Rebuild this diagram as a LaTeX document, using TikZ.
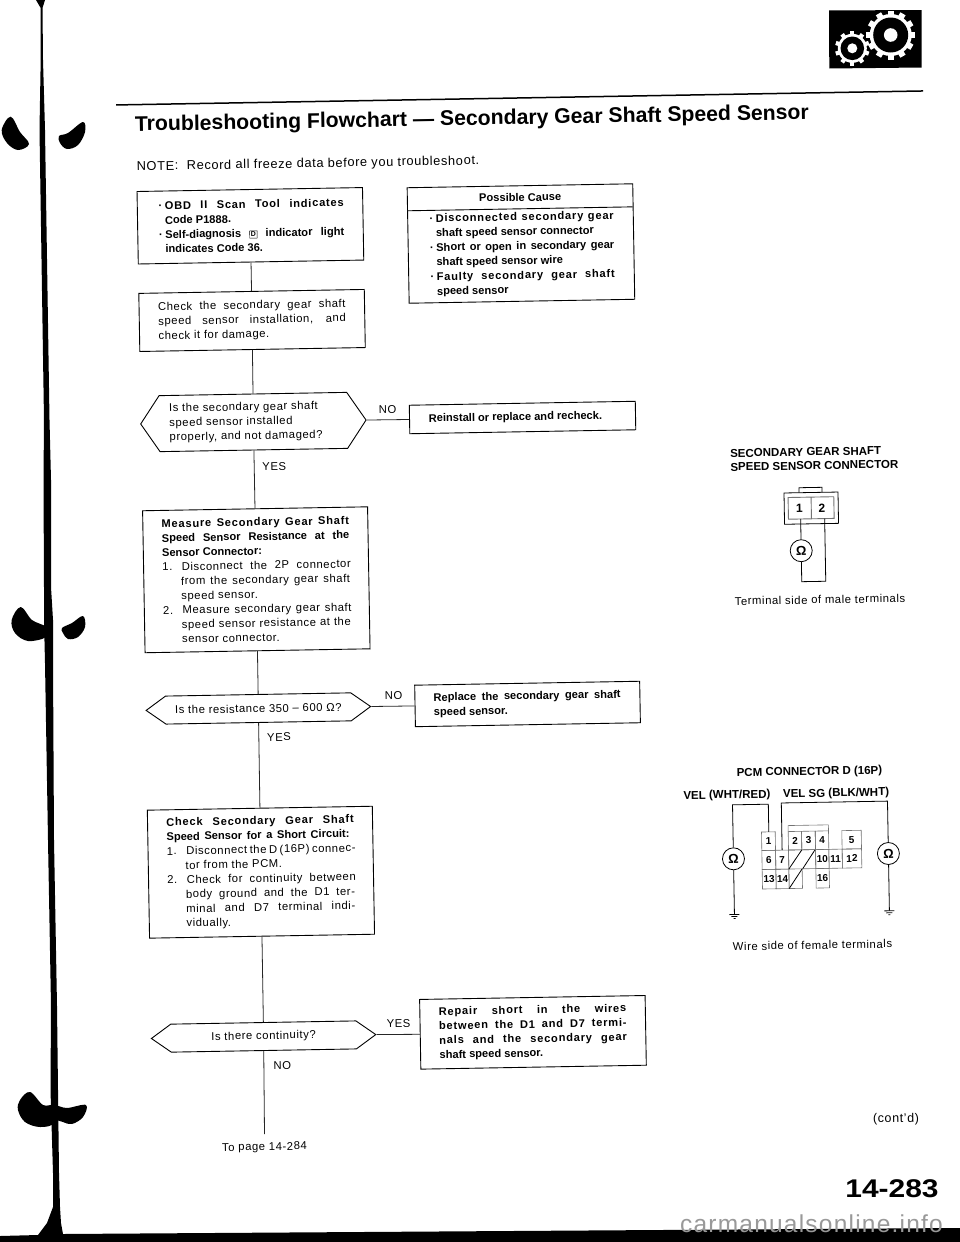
\documentclass[tikz,border=0pt]{standalone}
\usepackage{fontspec}
\setmainfont[UprightFeatures={LetterSpace=5}]{Liberation Sans}
\usetikzlibrary{shapes.symbols}
\newcommand{\jl}[1]{\makebox[187.5pt][s]{#1}}
\newcommand{\jb}[1]{\makebox[179pt][s]{#1}}
\newcommand{\ls}[1]{{\addfontfeatures{LetterSpace=7}#1}}
\newcommand{\bul}{\leavevmode\llap{·\hspace{2.5pt}}}
\newcommand{\bs}{\bfseries\fontsize{11.1}{14.45}\selectfont}
\newcommand{\rs}{\mdseries\fontsize{11.3}{14.45}\selectfont}
\newcommand{\txt}[1]{\parbox{187.5pt}{\fontsize{11.3}{14.45}\selectfont\setlength{\parindent}{0pt}#1}}
\tikzset{
  boxn/.style={draw=black,line width=0.9pt,inner sep=0pt,fill=white},
  hexn/.style={draw=black,line width=0.9pt,inner sep=0pt,signal,signal to=west and east,font=\fontsize{11.3}{14.45}\selectfont},
  link/.style={draw=black!85,line width=0.8pt},
  lab/.style={inner sep=0pt,font=\fontsize{11.3}{12}\selectfont},
  wire/.style={draw=black,line width=0.8pt},
  cellbox/.style={draw=black!55,line width=0.6pt},
  ohm/.style={circle,draw,line width=.8pt,minimum size=22pt,inner sep=0pt,font=\bfseries\fontsize{13}{14}\selectfont},
  blob/.style={fill=black,draw=none}
}
\begin{document}
\begin{tikzpicture}[x=1pt,y=-1pt]
\useasboundingbox (0,0) rectangle (960,1242);
\fill[white] (0,0) rectangle (960,1242);
% scan edge
\fill[blob] (36,0) -- (45,0) -- (42.5,8) -- (43,60) -- (45,130) -- (49.5,420) -- (51,480) -- (51,587) -- (53,620) -- (53,663) -- (54,840) -- (57,1006) -- (58,1090) -- (59,1173) -- (60,1207) -- (61,1223) -- (63,1234) -- (960,1228) -- (960,1242) -- (0,1242) -- (0,1236) -- (38,1235) -- (47,1223) -- (53,1207) -- (53,1173) -- (50.5,1090) -- (51,1006) -- (48,840) -- (45,663) -- (44,620) -- (44,587) -- (43.5,480) -- (44,420) -- (39.5,130) -- (40.7,60) -- (40.7,8) -- cycle;
\fill[blob] plot[smooth cycle,tension=.6] coordinates {(10.7,116.7)(1.7,130)(7,143)(18,150)(29,144)(20,132)};
\fill[blob] plot[smooth cycle,tension=.6] coordinates {(59,136)(68,133)(83,122)(85,132)(78,145)(67,149)(60,143)};
\fill[blob] plot[smooth cycle,tension=.6] coordinates {(20.7,607)(11.7,620)(15,633)(28,641)(46,637)(46,627)(32,620)};
\fill[blob] plot[smooth cycle,tension=.6] coordinates {(62,628)(72,623)(83,616)(85,627)(78,637)(68,639)(63,633)};
\fill[blob] plot[smooth cycle,tension=.6] coordinates {(30,1092)(20,1100)(18,1110)(25,1122)(40,1127)(54,1123)(54,1106)(43,1105)};
\fill[blob] plot[smooth cycle,tension=.6] coordinates {(55,1106)(67,1108)(86,1105)(83,1117)(72,1124)(63,1122)(55,1118)};
% gear icon
\fill[black] (829,10.5) -- (921.5,10) -- (921.7,67.5) -- (829.3,68.5) -- cycle;
\foreach \a in {0,30,...,330} {\fill[white,rotate around={\a:(890.7,35)}] (887.7,10.5) rectangle (893.7,16);}
\fill[white] (890.7,35) circle (21);
\fill[black] (890.7,35) circle (17.5);
\fill[white] (890.7,35) circle (6.8);
\foreach \a in {0,36,...,324} {\fill[white,rotate around={\a:(852.3,48.3)}] (850.2,31) rectangle (854.4,36);}
\fill[white] (852.3,48.3) circle (14.5);
\fill[black] (852.3,48.3) circle (11.8);
\fill[white] (852.3,48.3) circle (5);
% main rotated sheet
\begin{scope}[rotate around={1:(137,190)},transform shape]
\draw[line width=1.5pt] (117.5,104.6) -- (924.7,104.7);
\node[inner sep=0pt,anchor=west,font=\bfseries\fontsize{21.2}{24}\selectfont] (title) at (136,125.7) {Troubleshooting Flowchart — Secondary Gear Shaft Speed Sensor};
\node[inner sep=0pt,anchor=west,font=\fontsize{12.8}{14}\selectfont] (note) at (137,167.3) {NOTE:\ \ Record all freeze data before you troubleshoot.};
\node[boxn,minimum width=225.5pt,minimum height=72.5pt] (b1) at (249.75,227.75) {\txt{\hspace*{8.5pt}\parbox{179pt}{\bs
\bul\jb{\ls{OBD II Scan Tool indicates}}\\
Code P1888.\\
\bul\jb{Self-diagnosis {\fboxsep=1pt\fboxrule=.4pt\fbox{\fontsize{7}{7}\selectfont D}} indicator light}\\
indicates Code 36.}}};
\node[boxn,minimum width=225.5pt,minimum height=58.1pt] (b2) at (249.75,322.45) {\txt{\jl{Check the secondary gear shaft}\\
\jl{speed sensor installation, and}\\
check it for damage.}};
\node[boxn,minimum width=225.6pt,minimum height=115.5pt,anchor=north west] (pc) at (406.7,192) {};
\draw[boxn] (406.7,215.5) -- (632.3,215.5);
\node[lab,font=\bs] (pct) at (520,204) {Possible Cause};
\node[inner sep=0pt,anchor=north west] (pcx) at (435,219) {\parbox{178pt}{\fontsize{11.1}{14.6}\selectfont\bfseries
\bul\makebox[178pt][s]{\ls{Disconnected secondary gear}}\\
shaft speed sensor connector\\
\bul\makebox[178pt][s]{Short or open in secondary gear}\\
shaft speed sensor wire\\
\bul\makebox[178pt][s]{\ls{Faulty secondary gear shaft}}\\
speed sensor}};
\node[hexn,minimum width=225.4pt,minimum height=56pt,signal pointer angle=112] (h1) at (249.3,424) {\parbox{168pt}{Is the secondary gear shaft\\speed sensor installed\\properly, and not damaged?}};
\node[boxn,minimum width=226pt,minimum height=28.5pt] (r1) at (518.5,424.2) {\parbox{187.5pt}{\bs Reinstall or replace and recheck.}};
\node[lab] (no1) at (383.6,413.7) {NO};
\node[lab] (yes1) at (269.4,469) {YES};
\node[boxn,minimum width=225pt,minimum height=142pt] (b3) at (249.5,581.8) {\txt{\bs
\jl{\ls{Measure Secondary Gear Shaft}}\\
\jl{Speed Sensor Resistance at the}\\
Sensor Connector:\\
\rs 1.\hspace{9.5pt}\makebox[169pt][s]{Disconnect the 2P connector}\\
\hspace*{18.5pt}\makebox[169pt][s]{from the secondary gear shaft}\\
\hspace*{18.5pt}speed sensor.\\
2.\hspace{9.5pt}\makebox[169pt][s]{Measure secondary gear shaft}\\
\hspace*{18.5pt}\makebox[169pt][s]{speed sensor resistance at the}\\
\hspace*{18.5pt}sensor connector.}};
\node[hexn,minimum width=224.5pt,minimum height=28pt,signal pointer angle=71] (h2) at (249.3,710.5) {Is the resistance 350 – 600 Ω?};
\node[boxn,minimum width=225pt,minimum height=41.5pt] (r2) at (518.5,710.7) {\parbox{187.5pt}{\fontsize{11.1}{14.6}\selectfont\bfseries \makebox[187pt][s]{Replace the secondary gear shaft}\\speed sensor.}};
\node[lab] (no2) at (384.7,700.2) {NO};
\node[lab] (yes2) at (269.4,739.5) {YES};
\node[boxn,minimum width=225pt,minimum height=128pt] (b4) at (249,874.25) {\txt{\bs
\jl{\ls{Check Secondary Gear Shaft}}\\
\makebox[183pt][s]{Speed Sensor for a Short Circuit:}\\
\rs 1.\hspace{9.5pt}\makebox[169pt][s]{Disconnect the D (16P) connec-}\\
\hspace*{18.5pt}tor from the PCM.\\
2.\hspace{9.5pt}\makebox[169pt][s]{Check for continuity between}\\
\hspace*{18.5pt}\makebox[169pt][s]{body ground and the D1 ter-}\\
\hspace*{18.5pt}\makebox[169pt][s]{minal and D7 terminal indi-}\\
\hspace*{18.5pt}vidually.}};
\node[hexn,minimum width=224.4pt,minimum height=28pt,signal pointer angle=71] (h3) at (248.8,1038.6) {Is there continuity?};
\node[boxn,minimum width=225.5pt,minimum height=69.7pt] (r3) at (518.2,1039.1) {\txt{\bs
\jl{\ls{Repair short in the wires}}\\
\jl{\ls{between the D1 and D7 termi-}}\\
\jl{\ls{nals and the secondary gear}}\\
shaft speed sensor.}};
\node[lab] (yes3) at (384,1027.9) {YES};
\node[lab] (no3) at (267,1068.2) {NO};
\coordinate (endc) at (248,1136.3);
\node[lab] (top) at (247.8,1149.8) {To page 14-284};
\draw[link] (b1) -- (b2);
\draw[link] (b2) -- (h1);
\draw[link] (h1.east) -- (r1.west);
\draw[link] (h1) -- (b3);
\draw[link] (b3) -- (h2);
\draw[link] (h2.east) -- (r2.west);
\draw[link] (h2) -- (b4);
\draw[link] (b4) -- (h3);
\draw[link] (h3.east) -- (r3.west);
\draw[link] (h3) -- (endc);
\end{scope}
% speed sensor connector
\begin{scope}[rotate around={1:(800,510)},transform shape]
\node[inner sep=0pt,anchor=west,align=left,font=\bfseries\fontsize{11.5}{13.7}\selectfont] (sl) at (731,459) {SECONDARY GEAR SHAFT\\SPEED SENSOR CONNECTOR};
\draw[wire] (784.3,492.7) rectangle (838.3,524);
\draw[wire] (799.3,492.7) -- (799.3,487.7) -- (822.3,487.7) -- (822.3,492.7);
\draw[cellbox,line width=0.9pt] (788.3,497.3) rectangle (834,519) (811.3,497.3) -- (811.3,519);
\node[inner sep=0pt,font=\bfseries\fontsize{12}{13}\selectfont] (p1) at (799.5,508.3) {1};
\node[inner sep=0pt,font=\bfseries\fontsize{12}{13}\selectfont] (p2) at (822,508.3) {2};
\node[ohm] (om1) at (800.5,550.7) {Ω};
\draw[wire] (800.5,519) -- (om1.north);
\draw[wire] (om1.south) -- (800.5,581.7) -- (824.5,581.7) -- (824.5,519);
\node[lab,anchor=west] (c1) at (733,600) {Terminal side of male terminals};
\end{scope}
% PCM connector
\begin{scope}[rotate around={1:(820,860)},transform shape]
\node[inner sep=0pt,font=\bfseries\fontsize{11.5}{12}\selectfont] (pl) at (811,772) {PCM CONNECTOR D (16P)};
\node[inner sep=0pt,anchor=east,font=\bfseries\fontsize{11.5}{12}\selectfont] (vl) at (771.7,794) {VEL (WHT/RED)};
\node[inner sep=0pt,anchor=west,font=\bfseries\fontsize{11.5}{12}\selectfont] (vr) at (784,794) {VEL SG (BLK/WHT)};
\draw[cellbox] (788.7,831) -- (788.7,825) -- (829,825) -- (829,831);
\tikzset{gridn/.style={inner sep=0pt,font=\bfseries\fontsize{10}{11}\selectfont}}
\foreach \xa/\xb/\ya/\yb/\t in {762/775.7/831/849.5/1,788.7/802/831/849.5/2,802/815.7/831/849.5/3,815.7/829/831/849.5/4,842.3/861.7/831/849.5/5,762/775.7/849.5/868.5/6,775.7/788.7/849.5/868.5/7,815.7/829/849.5/868.5/10,829/842.3/849.5/868.5/11,842.3/861.7/849.5/868.5/12,762/775.7/868.5/888/13,775.7/788.7/868.5/888/14,815.7/829/868.5/888/16}{
  \draw[cellbox] (\xa,\ya) rectangle (\xb,\yb);
  \node[gridn] at ({(\xa+\xb)/2},{(\ya+\yb)/2}) {\t};
}
\draw[cellbox] (788.7,849.5) rectangle (815.7,868.5) (788.7,868.5) rectangle (802,888);
\draw[wire] (788.7,868.5) -- (802,849.5);
\draw[wire] (802.5,868.5) -- (815,850);
\draw[wire] (788.7,888) -- (802,868.5);
\node[ohm] (om2) at (733.5,857.3) {Ω};
\draw[wire] (769.3,831) -- (769.3,803.3) -- (733.5,803.3) -- (om2.north);
\draw[wire] (om2.south) -- (733.5,912.7);
\draw[wire] (728.5,913) -- (738.5,913) (730.5,915) -- (736.5,915) (732.5,917) -- (734.5,917);
\node[ohm] (om3) at (888.5,854.7) {Ω};
\draw[wire] (782.3,849.5) -- (782.3,802.3) -- (888.5,802.3) -- (om3.north);
\draw[wire] (om3.south) -- (888.5,911.7);
\draw[wire] (883.5,912) -- (893.5,912) (885.5,914) -- (891.5,914) (887.5,916) -- (889.5,916);
\node[lab] (c2) at (811,945) {Wire side of female terminals};
\end{scope}
\node[lab,rotate=1,font=\fontsize{12.5}{14}\selectfont] (cont) at (896,1119.3) {(cont’d)};
\node[inner sep=0pt,font=\bfseries\fontsize{25.6}{28}\selectfont] (pg) at (892,1189) {\scalebox{1.17}[1]{14-283}};
\node[inner sep=0pt,text=black!40,font=\fontsize{24.5}{28}\selectfont] (wm) at (811.5,1224) {carmanualsonline.info};
\end{tikzpicture}
\end{document}
